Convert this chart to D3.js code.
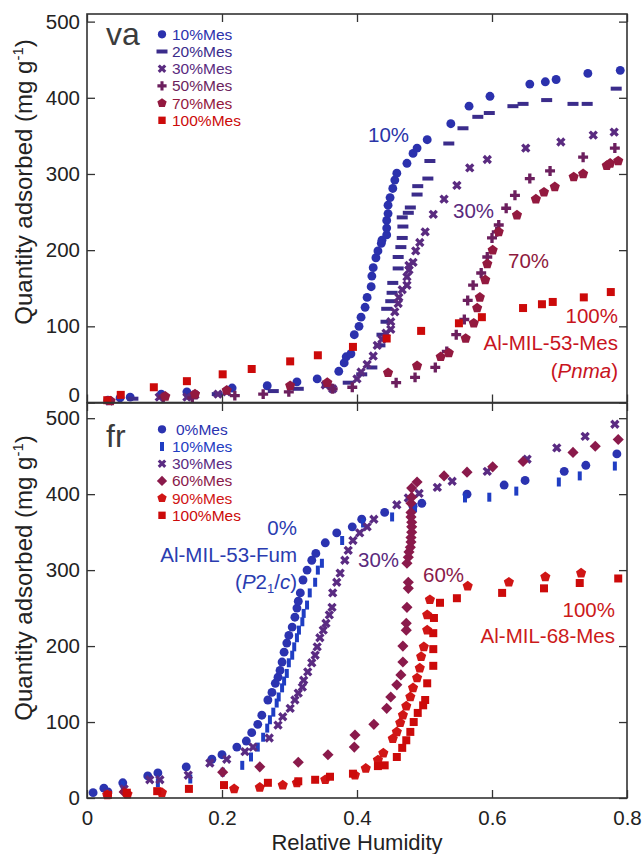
<!DOCTYPE html>
<html>
<head>
<meta charset="utf-8">
<script src="https://cdn.jsdelivr.net/npm/d3@7"></script>
<style>
body { margin: 0; background: #fff; }
text { font-family: Arial, "Liberation Sans", Helvetica, sans-serif; }
</style>
</head>
<body>
<svg width="642" height="854"></svg>
<script>
// tick values
const xTicks = [0, 0.2, 0.4, 0.6, 0.8];
const yTicks = [0, 100, 200, 300, 400, 500];

// top panel (va): [relative humidity, quantity adsorbed]
const va10 = [[0.031,3],[0.049,6],[0.064,7],[0.110,11],[0.148,14],[0.215,19],[0.267,22],[0.311,27],[0.341,31],[0.373,41],[0.381,52],[0.384,60],[0.391,64],[0.396,89],[0.403,100],[0.406,112],[0.412,125],[0.415,138],[0.421,152],[0.422,166],[0.424,177],[0.428,190],[0.431,199],[0.436,209],[0.437,213],[0.444,220],[0.444,229],[0.444,239],[0.446,248],[0.446,259],[0.449,269],[0.453,281],[0.456,292],[0.459,301],[0.474,314],[0.483,327],[0.489,334],[0.504,345],[0.539,366],[0.566,389],[0.597,402],[0.656,418],[0.679,421],[0.695,424],[0.742,432],[0.790,436]];
const va20 = [[0.068,5],[0.112,7],[0.156,9],[0.193,11],[0.276,15],[0.313,18],[0.356,22],[0.387,26],[0.407,37],[0.422,46],[0.434,75],[0.437,89],[0.443,106],[0.444,123],[0.450,133],[0.452,144],[0.453,157],[0.461,176],[0.461,191],[0.465,204],[0.467,216],[0.468,231],[0.467,243],[0.476,249],[0.479,256],[0.489,273],[0.490,284],[0.505,294],[0.508,317],[0.536,340],[0.557,360],[0.579,375],[0.596,380],[0.631,389],[0.646,392],[0.681,397],[0.720,392],[0.741,392],[0.784,412]];
const va30 = [[0.033,2],[0.107,7],[0.148,7],[0.160,10],[0.194,11],[0.207,14],[0.353,23],[0.364,18],[0.400,31],[0.406,40],[0.415,50],[0.424,61],[0.430,75],[0.437,83],[0.443,91],[0.450,96],[0.450,106],[0.456,119],[0.461,130],[0.462,138],[0.467,148],[0.474,154],[0.474,165],[0.477,174],[0.477,180],[0.483,184],[0.487,199],[0.493,210],[0.501,224],[0.513,247],[0.529,267],[0.548,285],[0.567,308],[0.593,319],[0.650,334],[0.702,342],[0.750,351],[0.781,355]];
const va50 = [[0.113,7],[0.156,6],[0.219,9],[0.261,11],[0.299,14],[0.364,18],[0.393,20],[0.458,26],[0.486,33],[0.516,46],[0.533,67],[0.547,89],[0.559,109],[0.564,134],[0.572,154],[0.584,170],[0.593,191],[0.600,216],[0.607,224],[0.610,233],[0.621,255],[0.634,272],[0.656,294],[0.686,304],[0.735,322],[0.782,334]];
const va70 = [[0.035,2],[0.116,8],[0.160,11],[0.207,16],[0.301,22],[0.356,26],[0.446,39],[0.489,48],[0.524,60],[0.536,65],[0.561,84],[0.573,104],[0.578,124],[0.582,138],[0.590,161],[0.593,182],[0.601,200],[0.610,224],[0.637,246],[0.665,267],[0.677,276],[0.693,283],[0.721,296],[0.735,300],[0.770,311],[0.775,314],[0.787,317]];
const va100 = [[0.030,3],[0.050,10],[0.099,20],[0.148,28],[0.201,37],[0.244,44],[0.301,54],[0.342,62],[0.394,73],[0.444,84],[0.495,94],[0.551,104],[0.585,112],[0.646,124],[0.674,129],[0.690,132],[0.736,138],[0.776,145]];

// bottom panel (fr)
const fr0 = [[0.009,7],[0.025,13],[0.031,8],[0.053,20],[0.090,29],[0.105,33],[0.147,41],[0.185,51],[0.200,57],[0.222,67],[0.236,75],[0.244,86],[0.253,97],[0.259,109],[0.268,129],[0.274,139],[0.279,151],[0.283,159],[0.286,168],[0.289,179],[0.292,192],[0.296,204],[0.299,214],[0.304,225],[0.308,238],[0.311,250],[0.313,259],[0.316,270],[0.320,287],[0.326,300],[0.333,313],[0.339,322],[0.353,336],[0.370,349],[0.393,357],[0.407,367],[0.441,376],[0.483,384],[0.496,388],[0.563,400],[0.618,412],[0.649,418],[0.707,430],[0.739,438],[0.785,453]];
const fr10 = [[0.053,17],[0.105,20],[0.153,25],[0.201,34],[0.230,43],[0.243,54],[0.253,67],[0.261,80],[0.267,92],[0.271,103],[0.276,113],[0.281,125],[0.284,133],[0.289,145],[0.292,154],[0.296,164],[0.299,178],[0.304,188],[0.307,199],[0.311,211],[0.314,221],[0.319,232],[0.321,243],[0.326,254],[0.330,270],[0.338,284],[0.342,300],[0.348,309],[0.378,339],[0.409,362],[0.452,370],[0.486,382],[0.560,395],[0.596,396],[0.636,404],[0.699,416],[0.730,424],[0.782,437]];
const fr30 = [[0.030,6],[0.055,12],[0.093,24],[0.108,24],[0.150,30],[0.182,46],[0.207,51],[0.234,61],[0.246,67],[0.270,79],[0.283,96],[0.290,107],[0.301,118],[0.308,129],[0.313,138],[0.319,146],[0.321,155],[0.327,166],[0.333,178],[0.338,188],[0.341,199],[0.345,211],[0.350,221],[0.354,230],[0.359,241],[0.363,251],[0.364,270],[0.370,284],[0.375,296],[0.382,313],[0.387,326],[0.394,339],[0.404,349],[0.415,357],[0.425,367],[0.459,386],[0.476,395],[0.492,401],[0.519,409],[0.541,417],[0.593,430],[0.652,446],[0.696,461],[0.738,476],[0.782,492]];
const fr60 = [[0.055,8],[0.201,34],[0.256,41],[0.313,47],[0.357,57],[0.396,67],[0.397,83],[0.425,97],[0.444,118],[0.450,133],[0.459,149],[0.465,162],[0.468,179],[0.468,200],[0.473,221],[0.473,230],[0.474,251],[0.476,276],[0.476,284],[0.474,309],[0.476,317],[0.477,324],[0.479,330],[0.480,337],[0.480,343],[0.481,350],[0.481,357],[0.481,363],[0.480,370],[0.480,376],[0.480,388],[0.481,396],[0.481,408],[0.489,416],[0.529,424],[0.563,429],[0.601,436],[0.646,443],[0.720,455],[0.753,463],[0.787,472]];
const fr90 = [[0.030,4],[0.060,5],[0.111,7],[0.218,12],[0.256,14],[0.290,17],[0.311,20],[0.353,24],[0.397,30],[0.413,39],[0.431,50],[0.439,59],[0.453,78],[0.459,87],[0.464,99],[0.468,109],[0.473,121],[0.479,133],[0.483,145],[0.489,158],[0.493,171],[0.495,186],[0.499,199],[0.504,221],[0.504,241],[0.508,261],[0.564,279],[0.625,284],[0.679,291],[0.732,296]];
const fr100 = [[0.031,4],[0.059,7],[0.104,9],[0.151,12],[0.203,17],[0.268,20],[0.313,22],[0.338,24],[0.360,28],[0.394,32],[0.431,42],[0.441,43],[0.459,54],[0.467,66],[0.473,76],[0.479,87],[0.484,100],[0.490,112],[0.498,122],[0.501,129],[0.504,151],[0.513,174],[0.513,196],[0.513,217],[0.514,237],[0.523,257],[0.548,263],[0.615,270],[0.677,276],[0.730,283],[0.787,289]];

const vaNames = ["10%Mes", "20%Mes", "30%Mes", "50%Mes", "70%Mes", "100%Mes"];
const frNames = ["0%Mes", "10%Mes", "30%Mes", "60%Mes", "90%Mes", "100%Mes"];

const svg = d3.select("svg");
const x = d3.scaleLinear().domain([0, 0.8]).range([87, 627]);
const yTop = d3.scaleLinear().domain([0, 510]).range([402.5, 14]);
const yBot = d3.scaleLinear().domain([0, 520]).range([798, 403]);

// marker shapes
const pentagon = {draw(ctx, size) {
    const r = Math.sqrt(size / 2.378);
    for (let i = 0; i < 5; i++) {
        const a = -Math.PI / 2 + i * 2 * Math.PI / 5;
        if (i) ctx.lineTo(r * Math.cos(a), r * Math.sin(a));
        else ctx.moveTo(r * Math.cos(a), r * Math.sin(a));
    }
    ctx.closePath();
}};
const hbar = {draw(ctx) { ctx.rect(-5.5, -2, 11, 4); }};
const vbar = {draw(ctx) { ctx.rect(-2, -4.5, 4, 9); }};

const vaSeries = [
    {data: va10, type: d3.symbolCircle, size: 62, rot: 0, color: "#2b31ad"},
    {data: va20, type: hbar, size: 40, rot: 0, color: "#3b2c8b"},
    {data: va30, type: d3.symbolCross, size: 55, rot: 45, color: "#5a2b80"},
    {data: va50, type: d3.symbolCross, size: 55, rot: 0, color: "#6c1f5e"},
    {data: va70, type: pentagon, size: 68, rot: 0, color: "#93193f"},
    {data: va100, type: d3.symbolSquare, size: 64, rot: 0, color: "#cc0a0a"}
];
const frSeries = [
    {data: fr0, type: d3.symbolCircle, size: 62, rot: 0, color: "#2b33b0"},
    {data: fr10, type: vbar, size: 40, rot: 0, color: "#1f3dc3"},
    {data: fr30, type: d3.symbolCross, size: 55, rot: 45, color: "#5a2b82"},
    {data: fr60, type: d3.symbolSquare, size: 62, rot: 45, color: "#8a1a4b"},
    {data: fr90, type: pentagon, size: 68, rot: 0, color: "#d01515"},
    {data: fr100, type: d3.symbolSquare, size: 64, rot: 0, color: "#cc0a0a"}
];

function drawPoints(series, y) {
    series.forEach(s => {
        const sym = d3.symbol().type(s.type).size(s.size)();
        svg.append("g").selectAll("path")
            .data(s.data)
            .enter().append("path")
            .attr("d", sym)
            .attr("fill", s.color)
            .attr("transform", d => "translate(" + x(d[0]) + "," + y(d[1]) + ") rotate(" + s.rot + ")");
    });
}

function drawLegend(series, names, y0, title, titleY) {
    series.forEach((s, i) => {
        const yy = y0 + i * 17.2;
        const sym = d3.symbol().type(s.type).size(s.size * 0.85)();
        svg.append("path").attr("d", sym).attr("fill", s.color)
            .attr("transform", "translate(162," + yy + ") rotate(" + s.rot + ")");
        svg.append("text").attr("x", names[i] == "0%Mes" ? 176 : 172).attr("y", yy)
            .attr("dy", "0.36em").attr("font-size", 15.5).attr("fill", s.color).text(names[i]);
    });
    svg.append("text").attr("x", 106).attr("y", titleY).attr("font-size", 32)
        .attr("fill", "#3c3c3c").text(title);
}

function drawAxes(y, bottomLabels) {
    const yTop0 = y.range()[1], yBot0 = y.range()[0];
    const gl = svg.append("g").attr("transform", "translate(87,0)")
        .call(d3.axisLeft(y).tickValues(yTicks).tickSize(-8).tickPadding(7));
    svg.append("g").attr("transform", "translate(627,0)")
        .call(d3.axisRight(y).tickValues(yTicks).tickSize(-8).tickFormat(""));
    svg.append("g").attr("transform", "translate(0," + yTop0 + ")")
        .call(d3.axisTop(x).tickValues(xTicks).tickSize(-8).tickFormat(""));
    svg.append("g").attr("transform", "translate(0," + yBot0 + ")")
        .call(d3.axisBottom(x).tickValues(xTicks).tickSize(-8).tickPadding(12)
            .tickFormat(bottomLabels ? d3.format("") : ""));
    svg.append("rect").attr("x", 87).attr("y", yTop0).attr("width", 540)
        .attr("height", yBot0 - yTop0).attr("fill", "none")
        .attr("stroke", "#333").attr("stroke-width", 1.6);
    return gl;
}

drawPoints(vaSeries, yTop);
drawPoints(frSeries, yBot);

const glTop = drawAxes(yTop, false);
drawAxes(yBot, true);
// move the top panel's 0 up so it clears the 500 below
glTop.selectAll(".tick").filter(d => d === 0).select("text").attr("dy", "-0.05em");

svg.selectAll(".domain").remove();
svg.selectAll(".tick line").attr("stroke", "#333").attr("stroke-width", 1.3);
svg.selectAll(".tick text").attr("font-size", 20.5).attr("fill", "#222")
    .attr("font-family", "Arial, 'Liberation Sans', sans-serif");

drawLegend(vaSeries, vaNames, 34.3, "va", 45);
drawLegend(frSeries, frNames, 429.3, "fr", 447);

// axis titles
[182, 578].forEach(cy => {
    const t = svg.append("text").attr("transform", "translate(32," + cy + ") rotate(-90)")
        .attr("text-anchor", "middle").attr("font-size", 24).attr("fill", "#222");
    t.append("tspan").text("Quantity adsorbed (mg g");
    t.append("tspan").attr("font-size", 15).attr("dy", "-9").text("-1");
    t.append("tspan").attr("dy", "9").text(")");
});
svg.append("text").attr("x", 357).attr("y", 850).attr("text-anchor", "middle")
    .attr("font-size", 22).attr("fill", "#222").text("Relative Humidity");

// annotations
function note(txt, xx, yy, anchor, color) {
    return svg.append("text").attr("x", xx).attr("y", yy).attr("text-anchor", anchor)
        .attr("font-size", 20.5).attr("fill", color).text(txt);
}
note("10%", 368, 142, "start", "#2a35a8");
note("30%", 453, 218, "start", "#5a2a7d");
note("70%", 508, 268, "start", "#8e1a3e");
note("100%", 618, 323, "end", "#c8141e");
note("Al-MIL-53-Mes", 618, 350, "end", "#c8141e");
const pn = note("", 618, 378, "end", "#c8141e");
pn.append("tspan").text("(");
pn.append("tspan").attr("font-style", "italic").text("Pnma");
pn.append("tspan").text(")");

note("0%", 297, 535, "end", "#2a3cb0");
note("Al-MIL-53-Fum", 297, 562, "end", "#2a3cb0");
const pc = note("", 297, 589, "end", "#2a3cb0");
pc.append("tspan").text("(");
pc.append("tspan").attr("font-style", "italic").text("P");
pc.append("tspan").text("2");
pc.append("tspan").attr("font-size", 13).attr("dy", "4").text("1");
pc.append("tspan").attr("dy", "-4").text("/");
pc.append("tspan").attr("font-style", "italic").text("c");
pc.append("tspan").text(")");
note("30%", 358, 567, "start", "#5a2a7d");
note("60%", 423, 582, "start", "#8a1a4a");
note("100%", 615, 617, "end", "#cc1a1a");
note("Al-MIL-68-Mes", 615, 643, "end", "#cc1a1a");
</script>
</body>
</html>
